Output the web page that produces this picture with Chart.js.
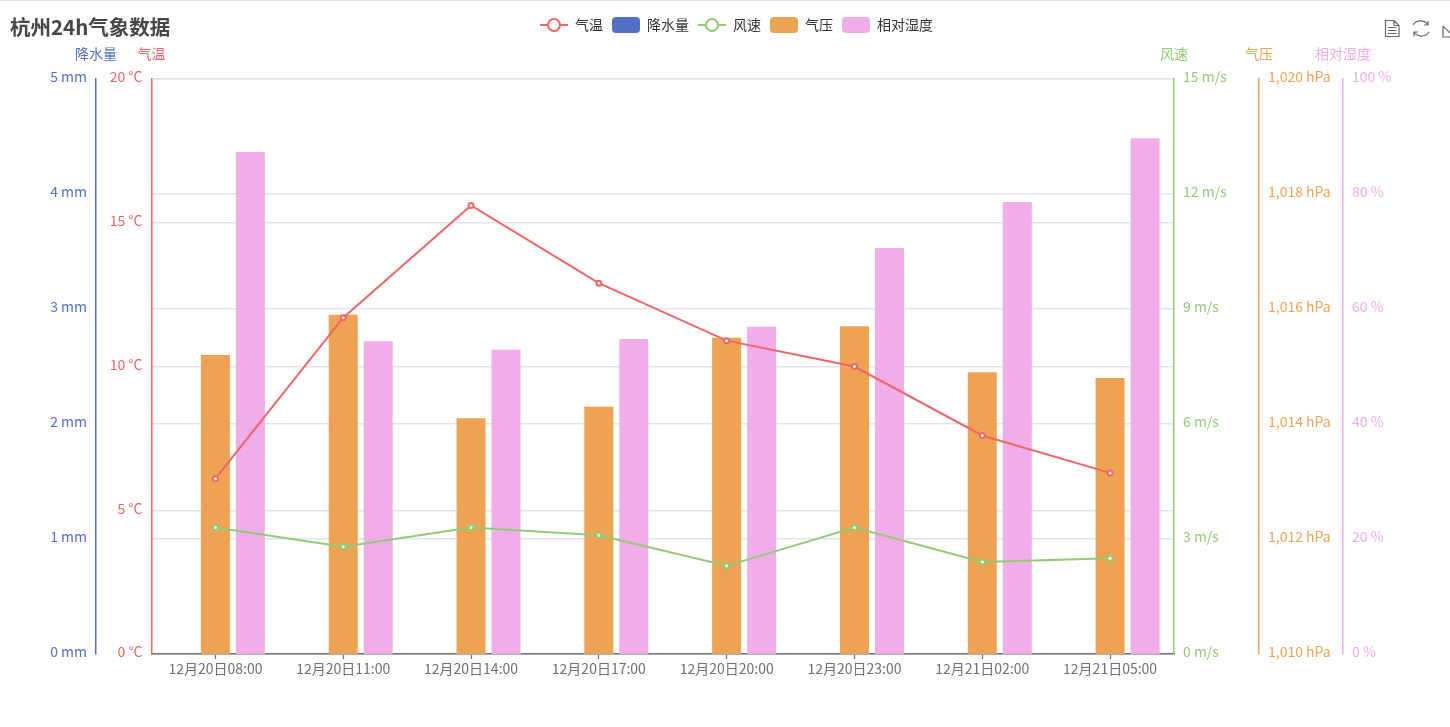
<!DOCTYPE html>
<html>
<head>
<meta charset="utf-8">
<title>杭州24h气象数据</title>
<script src="https://cdn.jsdelivr.net/npm/chart.js@4"></script>
<style>
html, body { margin: 0; padding: 0; background: #fff; overflow: hidden; }
#top-line { position: absolute; left: 0; top: 0; width: 1450px; height: 1px; background: #e6e6ef; }
#weather-chart { position: absolute; left: 0; top: 0; }
#toolbox { position: absolute; left: 1380px; top: 17px; }
</style>
</head>
<body>
<canvas id="weather-chart" width="1450" height="727"></canvas>
<div id="top-line"></div>
<svg id="toolbox" width="70" height="24" fill="none" stroke="#666" stroke-width="1.2">
  <path d="M5.5 3.5H14L19 8.5V19.5H5.5Z M14 3.5V8.5H19 M8 10.5H16.5 M8 13.5H16.5 M8 16.5H16.5"/>
  <path d="M33 8A9 9 0 0 1 48 8 M48 4V8H44 M49 15A9 9 0 0 1 34 15 M34 19.500V15H38"/>
  <path d="M63 9V20H72 M63 9L72 18"/>
</svg>
<script>
// ================= DATA =================
const TITLE = "杭州24h气象数据";
const times = ["12月20日08:00", "12月20日11:00", "12月20日14:00", "12月20日17:00", "12月20日20:00", "12月20日23:00", "12月21日02:00", "12月21日05:00"];
const temperature = [6.1, 11.7, 15.6, 12.9, 10.9, 10.0, 7.6, 6.3];
const rainfall = [0, 0, 0, 0, 0, 0, 0, 0];
const windSpeed = [3.3, 2.8, 3.3, 3.1, 2.3, 3.3, 2.4, 2.5];
const pressure = [1015.2, 1015.9, 1014.1, 1014.3, 1015.5, 1015.7, 1014.9, 1014.8];
const humidity = [87.3, 54.4, 52.9, 54.8, 56.9, 70.6, 78.6, 89.7];

// ================= COLORS =================
const RED = "#EE6666";
const BLUE = "#5470C6";
const GREEN = "#91CC75";
const ORANGE = "#EEA354";
const PINK = "#F1ACEA";
const GRID = "#E0E6F1";
const AXIS = "#6E7079";
const FONT = "'Noto Sans CJK SC', sans-serif";

// ================= LEGEND ICONS =================
function lineIcon(color) {
    const c = document.createElement("canvas");
    c.width = 28;
    c.height = 16;
    const ctx = c.getContext("2d");
    ctx.strokeStyle = color;
    ctx.lineWidth = 2;
    ctx.beginPath();
    ctx.moveTo(0, 8);
    ctx.lineTo(28, 8);
    ctx.stroke();
    ctx.beginPath();
    ctx.arc(14, 8, 6, 0, Math.PI * 2);
    ctx.fillStyle = "#fff";
    ctx.fill();
    ctx.stroke();
    return c;
}

function barIcon(color) {
    const c = document.createElement("canvas");
    c.width = 28;
    c.height = 16;
    const ctx = c.getContext("2d");
    ctx.fillStyle = color;
    ctx.beginPath();
    ctx.roundRect(0, 0, 28, 16, 4);
    ctx.fill();
    return c;
}

// ================= AXES =================
function yAxis(position, weight, color, min, max, step, boxWidth, format, showGrid) {
    return {
        position,
        weight,
        min,
        max,
        afterFit: scale => { scale.width = boxWidth; },
        border: { display: true, color, width: 1.5 },
        grid: { display: showGrid, color: GRID, lineWidth: 1.5, drawTicks: false },
        ticks: {
            color,
            padding: 9,
            stepSize: step,
            autoSkip: false,
            labelOffset: -2,
            font: { family: FONT, size: 14 },
            callback: format
        }
    };
}

// ================= EXTRA LABELS =================
const axisNames = { yRain: "降水量", yTemp: "气温", yWind: "风速", yPressure: "气压", yHumidity: "相对湿度" };

const extrasPlugin = {
    id: "extras",
    beforeInit(chart) {
        // room between legend and plot for the axis names
        const fit = chart.legend.fit;
        chart.legend.fit = function () {
            fit.call(this);
            this.height = 79;
        };
    },
    afterLayout(chart) {
        chart.legend.left += 13;
        chart.legend.top += 9;
    },
    afterDraw(chart) {
        const ctx = chart.ctx;
        ctx.save();
        ctx.textBaseline = "middle";
        ctx.font = `bold 20.5px ${FONT}`;
        ctx.fillStyle = "#464646";
        ctx.textAlign = "left";
        ctx.fillText(TITLE, 10, 27);
        ctx.font = `14px ${FONT}`;
        ctx.textAlign = "center";
        Object.keys(axisNames).forEach(id => {
            const scale = chart.scales[id];
            ctx.fillStyle = scale.options.border.color;
            ctx.fillText(axisNames[id], id === "yRain" || id === "yTemp" ? scale.right : scale.left, 54);
        });
        ctx.restore();
    }
};

// ================= CHART =================
const legendIcons = [lineIcon(RED), barIcon(BLUE), lineIcon(GREEN), barIcon(ORANGE), barIcon(PINK)];

function lineSet(label, data, color, axis) {
    return {
        type: "line",
        label,
        data,
        yAxisID: axis,
        borderColor: color,
        backgroundColor: color,
        borderWidth: 2,
        tension: 0,
        pointRadius: 2.5,
        pointBorderWidth: 2,
        pointBackgroundColor: "#fff",
        pointBorderColor: color
    };
}

function barSet(label, data, color, axis) {
    return {
        type: "bar",
        label,
        data,
        yAxisID: axis,
        backgroundColor: color,
        categoryPercentage: 0.821,
        barPercentage: 0.829
    };
}

new Chart(document.getElementById("weather-chart").getContext("2d"), {
    data: {
        labels: times,
        datasets: [
            lineSet("气温", temperature, RED, "yTemp"),
            barSet("降水量", rainfall, BLUE, "yRain"),
            lineSet("风速", windSpeed, GREEN, "yWind"),
            barSet("气压", pressure, ORANGE, "yPressure"),
            barSet("相对湿度", humidity, PINK, "yHumidity")
        ]
    },
    plugins: [extrasPlugin],
    options: {
        responsive: false,
        animation: false,
        devicePixelRatio: 1,
        layout: { padding: { left: 10, top: 0, right: 0, bottom: 0 } },
        plugins: {
            tooltip: { enabled: false },
            legend: {
                position: "top",
                labels: {
                    usePointStyle: true,
                    pointStyleWidth: 28,
                    padding: 9,
                    color: "#333",
                    font: { family: FONT, size: 14 },
                    generateLabels: chart => chart.data.datasets.map((ds, i) => ({
                        text: ds.label,
                        datasetIndex: i,
                        pointStyle: legendIcons[i],
                        fontColor: "#333",
                        lineWidth: 0
                    }))
                }
            }
        },
        scales: {
            x: {
                type: "category",
                afterFit: scale => { scale.height = 73; },
                border: { color: AXIS, width: 1.5 },
                grid: { offset: false, drawOnChartArea: false, drawTicks: true, tickLength: 5, tickColor: AXIS, tickWidth: 1.2 },
                ticks: {
                    color: AXIS,
                    padding: 1,
                    maxRotation: 0,
                    autoSkip: false,
                    font: { family: FONT, size: 14 }
                }
            },
            yRain: yAxis("left", 1, BLUE, 0, 5, 1, 86, v => `${v} mm`, true),
            yTemp: yAxis("left", 0, RED, 0, 20, 5, 55.5, v => `${v} °C`, true),
            yWind: yAxis("right", 0, GREEN, 0, 15, 3, 85, v => `${v} m/s`, false),
            yPressure: yAxis("right", 1, ORANGE, 1010, 1020, 2, 84, v => `${v.toLocaleString("en-US")} hPa`, false),
            yHumidity: yAxis("right", 2, PINK, 0, 100, 20, 107, v => `${v} %`, false)
        }
    }
});
</script>
</body>
</html>
